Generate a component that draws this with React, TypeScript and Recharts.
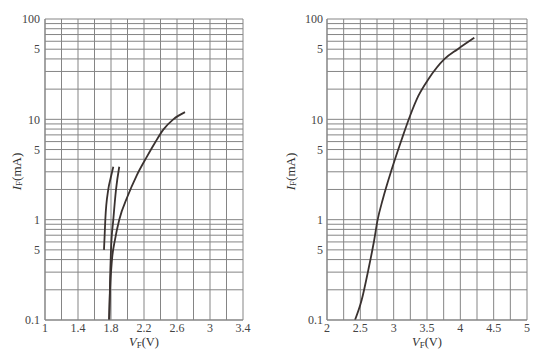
import React from 'react';
import { LineChart, Line, XAxis, YAxis, CartesianGrid } from 'recharts';

// left panel: three curves (V in volts, I in mA)
const leftAV = [1.715, 1.723, 1.731, 1.767, 1.796, 1.828];
const leftAI = [0.5, 0.7, 1.0, 2.0, 2.6, 3.37];
const leftBV = [1.78, 1.788, 1.8, 1.828, 1.861, 1.9];
const leftBI = [0.1, 0.234, 0.5, 1.0, 2.0, 3.37];
const leftCV = [1.776, 1.788, 1.812, 1.848, 1.9, 2.0, 2.111, 2.232, 2.333, 2.434, 2.555, 2.697];
const leftCI = [0.1, 0.2, 0.4, 0.63, 1.0, 1.7, 2.75, 4.2, 5.85, 7.9, 10, 11.8];

// right panel: one curve
const rightV = [2.42, 2.52, 2.62, 2.7, 2.76, 2.835, 2.97, 3.12, 3.245, 3.37, 3.52, 3.76, 3.96, 4.21];
const rightI = [0.1, 0.158, 0.316, 0.585, 1.0, 1.58, 3.16, 6.3, 10.8, 17.1, 25.1, 39.8, 50, 65];

const leftXTicks = [1, 1.2, 1.4, 1.6, 1.8, 2, 2.2, 2.4, 2.6, 2.8, 3, 3.2, 3.4];
const leftXLabels = [1, 1.4, 1.8, 2.2, 2.6, 3, 3.4];
const rightXTicks = [2, 2.25, 2.5, 2.75, 3, 3.25, 3.5, 3.75, 4, 4.25, 4.5, 4.75, 5];
const rightXLabels = [2, 2.5, 3, 3.5, 4, 4.5, 5];

const yTicks = [
  0.1, 0.2, 0.3, 0.4, 0.5, 0.6, 0.7, 0.8, 0.9,
  1, 2, 3, 4, 5, 6, 7, 8, 9,
  10, 20, 30, 40, 50, 60, 70, 80, 90, 100,
];
const yLabelValues = [0.1, 0.5, 1, 5, 10, 50, 100];
const yLabelTexts = ['0.1', '5', '1', '5', '10', '5', '100'];

const zip = (vs: number[], is: number[]) => vs.map((v, k) => ({ v, i: is[k] }));

const FONT = '"Liberation Serif", "DejaVu Serif", serif';
const GRID = '#858585';
const INK = '#3a3230';

const fmtY = (val: number) => {
  const k = yLabelValues.findIndex((t) => Math.abs(t - val) < 1e-9);
  return k >= 0 ? yLabelTexts[k] : '';
};
const fmtX = (labels: number[]) => (val: number) =>
  labels.some((t) => Math.abs(t - val) < 1e-9) ? String(val) : '';

const YTitle = ({ viewBox, dx }: any) => {
  const x = viewBox.x + dx;
  const y = viewBox.y + viewBox.height / 2 + 2;
  return (
    <text x={x} y={y} transform={`rotate(-90 ${x} ${y})`} textAnchor="middle"
      dominantBaseline="central" fontFamily={FONT} fontSize={13} fill="#333">
      <tspan fontStyle="italic">I</tspan>
      <tspan fontSize={9} dy={3}>F</tspan>
      <tspan dy={-3}>(mA)</tspan>
    </text>
  );
};

const XTitle = ({ viewBox }: any) => {
  const x = viewBox.x + viewBox.width / 2;
  return (
    <text x={x} y={346} textAnchor="middle" fontFamily={FONT} fontSize={12.5} fill="#333">
      <tspan fontStyle="italic">V</tspan>
      <tspan fontSize={9} dy={2}>F</tspan>
      <tspan dy={-2}>(V)</tspan>
    </text>
  );
};

interface PanelProps {
  left: number;
  yWidth: number;
  rightMargin: number;
  xTicks: number[];
  xLabels: number[];
  curves: { v: number; i: number }[][];
  titleDx: number;
  tickGap: number;
}

const Panel = ({ left, yWidth, rightMargin, xTicks, xLabels, curves, titleDx, tickGap }: PanelProps) => (
  <div style={{ position: 'absolute', left, top: 0 }}>
    <LineChart width={270} height={352} margin={{ top: 19, right: rightMargin, bottom: 0, left: 0 }}>
      <CartesianGrid stroke={GRID} strokeWidth={1} />
      <XAxis
        type="number"
        dataKey="v"
        domain={[xTicks[0], xTicks[xTicks.length - 1]]}
        ticks={xTicks}
        interval={0}
        tickFormatter={fmtX(xLabels)}
        height={32}
        tickLine={false}
        tickSize={0}
        tickMargin={3}
        axisLine={{ stroke: GRID }}
        tick={{ fill: '#444', fontSize: 12, fontFamily: FONT }}
        label={<XTitle />}
      />
      <YAxis
        type="number"
        scale="log"
        domain={[0.1, 100]}
        allowDataOverflow
        ticks={yTicks}
        interval={0}
        tickFormatter={fmtY}
        width={yWidth}
        tickLine={false}
        tickSize={0}
        tickMargin={tickGap}
        axisLine={{ stroke: GRID }}
        tick={{ fill: '#444', fontSize: 12, fontFamily: FONT }}
        label={<YTitle dx={titleDx} />}
      />
      {curves.map((d, k) => (
        <Line key={k} data={d} dataKey="i" type="monotone" stroke={INK} strokeWidth={1.8}
          dot={false} isAnimationActive={false} />
      ))}
    </LineChart>
  </div>
);

export default function App() {
  return (
    <div style={{ position: 'absolute', left: 0, top: 0, width: 541, height: 352, background: '#fff' }}>
      <Panel left={0} yWidth={45} rightMargin={27} xTicks={leftXTicks} xLabels={leftXLabels}
        curves={[zip(leftAV, leftAI), zip(leftBV, leftBI), zip(leftCV, leftCI)]} titleDx={16} tickGap={5} />
      <Panel left={271} yWidth={56} rightMargin={14} xTicks={rightXTicks} xLabels={rightXLabels}
        curves={[zip(rightV, rightI)]} titleDx={19} tickGap={4} />
    </div>
  );
}
